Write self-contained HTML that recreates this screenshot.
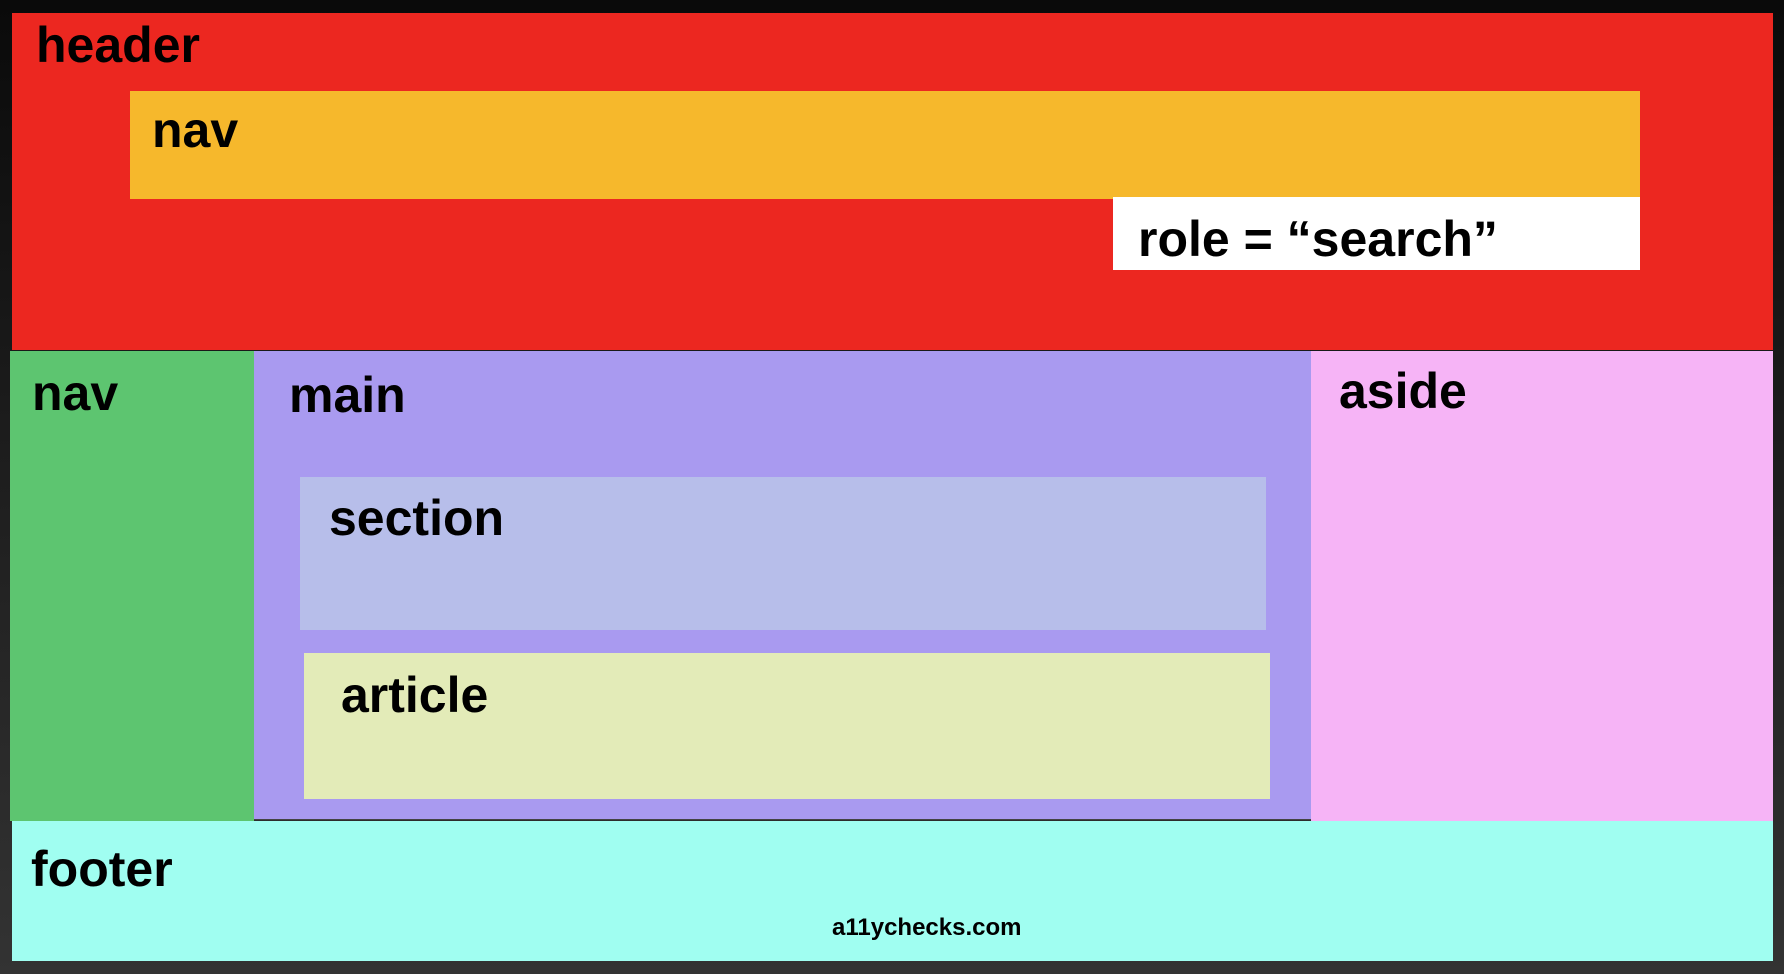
<!DOCTYPE html>
<html><head><meta charset="utf-8"><style>
body{margin:0;width:1784px;height:974px;background:linear-gradient(#0a0a0a,#333);position:relative;overflow:hidden;font-family:"Liberation Sans",sans-serif;font-weight:bold;}
div{position:absolute;box-sizing:border-box;}
.t{position:absolute;font-size:50px;color:#000;line-height:1;white-space:nowrap;}
</style></head><body>
<div style="left:12px;top:13px;width:1761px;height:337px;background:#EC2720"></div>
<div style="left:130px;top:91px;width:1510px;height:108px;background:#F6B82C"></div>
<div style="left:1113px;top:197px;width:527px;height:73px;background:#fff"></div>
<div style="left:10px;top:351px;width:244px;height:470px;background:#5DC570"></div>
<div style="left:254px;top:351px;width:1057px;height:469px;background:#A99AF0;border-bottom:1px solid #444"></div>
<div style="left:1311px;top:351px;width:462px;height:470px;background:#F6B4F6"></div>
<div style="left:300px;top:477px;width:966px;height:153px;background:#B7BEEA"></div>
<div style="left:304px;top:653px;width:966px;height:146px;background:#E3EBB8"></div>
<div style="left:12px;top:821px;width:1761px;height:140px;background:#A0FEF1"></div>
<span class="t" style="left:36px;top:20px">header</span>
<span class="t" style="left:152px;top:105px">nav</span>
<span class="t" style="left:1138px;top:214px">role = “search”</span>
<span class="t" style="left:32px;top:368px">nav</span>
<span class="t" style="left:289px;top:370px">main</span>
<span class="t" style="left:1339px;top:366px">aside</span>
<span class="t" style="left:329px;top:493px">section</span>
<span class="t" style="left:341px;top:670px">article</span>
<span class="t" style="left:31px;top:844px">footer</span>
<span class="t" style="left:832px;top:916px;font-size:24px">a11ychecks.com</span>
</body></html>
